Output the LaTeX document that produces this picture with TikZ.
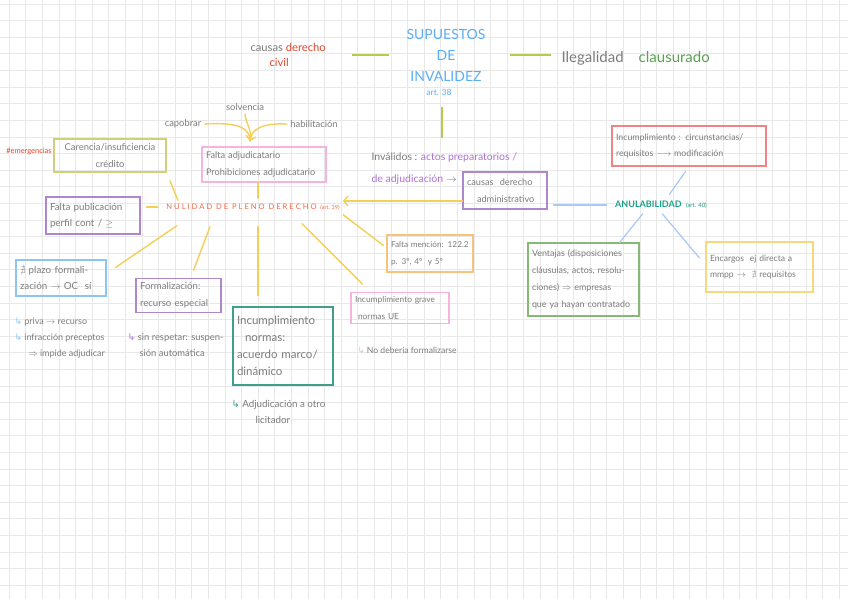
\documentclass[tikz,border=0pt]{standalone}
\usepackage{amssymb}
\usepackage{fontspec}
\setmainfont{Lato}
\newfontfamily\symfont{DejaVu Sans}
\usetikzlibrary{positioning,arrows.meta}
\definecolor{gridc}{HTML}{E8E8E8}
\definecolor{txt}{HTML}{7C7C7C}
\definecolor{tblue}{HTML}{5AAEF5}
\definecolor{olivel}{HTML}{B9C94A}
\definecolor{redt}{HTML}{E0452A}
\definecolor{greent}{HTML}{5AA052}
\definecolor{purt}{HTML}{B070D8}
\definecolor{yel}{HTML}{F5CF55}
\definecolor{nulc}{HTML}{EF6A4A}
\definecolor{lblue}{HTML}{A8C8F5}
\definecolor{anulc}{HTML}{1FA088}
\definecolor{bolive}{HTML}{CDD17A}
\definecolor{bpink}{HTML}{F7B2DE}
\definecolor{bpurple}{HTML}{AE86CC}
\definecolor{bblue}{HTML}{8CC4F2}
\definecolor{bteal}{HTML}{3F9E8C}
\definecolor{borange}{HTML}{F7C27C}
\definecolor{bred}{HTML}{EC8585}
\definecolor{bgreen}{HTML}{86B978}
\definecolor{byellow}{HTML}{F7D97A}
\newcommand{\hook}[1]{{\symfont\color{#1}↳}}
\newcommand{\fs}[1]{\fontsize{#1}{16.5}\selectfont}
\tikzset{
  hand/.style={font=\fs{9.4}, text=txt},
  box/.style={hand, draw, line width=1.1pt, align=left, inner sep=4pt},
  yline/.style={draw=yel, line width=1.4pt, line cap=round},
  bline/.style={draw=lblue, line width=1.2pt, line cap=round},
  oline/.style={draw=olivel, line width=1.5pt},
}
\begin{document}
\begin{tikzpicture}[x=1pt,y=-1pt]
  \useasboundingbox (0,0) rectangle (848,599);
  \fill[white] (0,0) rectangle (848,599);
  % grid paper
  \foreach \i in {0,...,51}
    \draw[gridc, line width=0.6pt] (\i*16.6+9,0) -- (\i*16.6+9,599);
  \foreach \j in {0,...,36}
    \draw[gridc, line width=0.6pt] (0,\j*16.6+4) -- (848,\j*16.6+4);

  % --- title ---
  \node[font=\fontsize{14}{21}\selectfont, text=tblue, align=center] (title) at (446,55)
    {SUPUESTOS\\DE\\INVALIDEZ};
  \node[font=\fontsize{8.5}{10}\selectfont, text=tblue] (art38) at (439,92) {art. 38};
  \node[hand, font=\fontsize{11.2}{15}\selectfont, align=left, anchor=west] (civil) at (247,55)
    {causas \textcolor{redt}{derecho}\\\hspace*{19pt}\textcolor{redt}{civil}};
  \node[font=\fontsize{15}{17}\selectfont, text=txt, anchor=west] (ileg) at (558,58)
    {Ilegalidad\quad\textcolor{greent}{clausurado}};
  \draw[oline, shorten <=23pt, shorten >=14pt] (civil.east |- title) -- (title.west);
  \draw[oline, shorten <=21pt, shorten >=7pt] (title.east) -- (ileg.west |- title);

  % --- administrative invalidity ---
  \node[hand, font=\fontsize{10.5}{22}\selectfont, align=left, anchor=north west] (inval) at (368,149)
    {Inválidos : \textcolor{purt}{actos preparatorios /}\\
     \textcolor{purt}{de adjudicación} $\rightarrow$};
  \draw[oline] (art38.south -| 442,0) ++(0,8) -- (442,138);
  \node[box, draw=bpurple, font=\fs{9.2}, minimum width=84pt, text width=76pt, minimum height=37pt] (causasadm) at (505,190.5)
    {causas\ \ derecho\\\hspace*{10pt}administrativo};
  \coordinate (nultip) at (343,201);
  \draw[yline, -{Straight Barb[length=4pt,width=10pt]}] (causasadm.west |- nultip) -- (nultip);

  % --- nulidad ---
  \node[font=\fontsize{7.6}{9}\selectfont, text=nulc] (nul) at (253,207)
    {N U L I D A D\ \ D E\ \ P L E N O\ \ D E R E C H O\ \ {\fontsize{5.5}{7}\selectfont (art. 39)}};

  \node[box, draw=bolive, align=center, minimum width=112pt, text width=104pt, minimum height=33pt] (caren) at (110,155.5)
    {Carencia/insuficiencia\\crédito};
  \node[font=\fontsize{7.5}{8}\selectfont, text=redt] (emerg) at (29,151) {\#emergencias};
  \node[box, draw=bpink, font=\fs{9.2}, minimum width=124pt, text width=116pt, minimum height=35pt] (fadj) at (264,164.5)
    {Falta adjudicatario\\Prohibiciones adjudicatario};
  \node[hand] (capob) at (183,124) {capobrar};
  \node[hand] (solv) at (245,107) {solvencia};
  \node[hand] (habil) at (314,124) {habilitación};
  \coordinate (merge) at (250,141);
  \draw[yline] (capob.east) .. controls (238,122) and (250,128) .. (merge);
  \draw[yline] (habil.west) .. controls (262,123) and (251,129) .. (merge);
  \draw[yline, -{Straight Barb[length=4pt,width=10pt]}] (solv.south) .. controls (246,124) and (252,130) .. (merge);

  \node[box, draw=bpurple, font=\fs{9.8}, minimum width=94pt, text width=86pt, minimum height=37pt] (pub) at (93,215.5)
    {Falta publicación\\perfil cont / $\geq$};
  \node[box, draw=bblue, font=\fs{9.8}, minimum width=90pt, text width=82pt, minimum height=36pt] (plazo) at (61,278)
    {$\nexists$ plazo formali-\\zación $\rightarrow$ OC\ \ sí};
  \node[box, draw=bpurple, font=\fs{9.6}, minimum width=85pt, text width=77pt, minimum height=33pt] (form) at (178.5,295.5)
    {Formalización:\\recurso especial};
  \node[box, draw=bteal, font=\fontsize{11.5}{17}\selectfont, minimum width=100pt, text width=92pt, minimum height=78pt] (incu) at (283,346)
    {Incumplimiento\\\hspace*{8pt}normas:\\acuerdo marco/\\dinámico};
  \node[box, draw=bpink, font=\fs{8.4}, minimum width=98pt, text width=90pt, minimum height=30pt] (grave) at (400,308)
    {Incumplimiento grave\\\hspace*{3pt}normas UE};
  \node[box, draw=borange, font=\fs{8.2}, minimum width=86pt, text width=78pt, minimum height=37pt] (mencion) at (430,253.5)
    {Falta mención: 122.2\\p. 3º, 4º\ \ y 5º};

  \draw[yline, shorten <=2pt] ([xshift=5pt]nul.north) -- ([xshift=5pt]nul.north |- fadj.south);
  \draw[yline, shorten >=9pt] ([xshift=15pt]nul.north west) -- (caren.south east);
  \draw[yline, shorten <=6pt, shorten >=5pt] (pub.east |- nul.west) -- (nul.west);
  \draw[yline] ([shift={(14pt,-12pt)}]nul.south west) -- ([shift={(9pt,-8pt)}]plazo.north east);
  \draw[yline] ([shift={(-43pt,-13pt)}]nul.south) -- ([shift={(-28pt,8pt)}]form.north east);
  \draw[yline] ([shift={(5pt,-13pt)}]nul.south) -- ([shift={(5pt,11pt)}]nul.south |- incu.north);
  \draw[yline] ([shift={(49pt,-10pt)}]nul.south) -- ([shift={(12pt,8pt)}]grave.north west);
  \draw[yline] ([shift={(0pt,-1pt)}]nul.south east) -- ([shift={(-3pt,8pt)}]mencion.west);

  % notes under the boxes
  \node[hand, font=\fontsize{9}{16}\selectfont, align=left, anchor=north west] (plazonote) at (11,314)
    {\hook{bblue} priva $\rightarrow$ recurso\\\hook{bblue} infracción preceptos\\\hspace*{14pt}$\Rightarrow$ impide adjudicar};
  \node[hand, font=\fontsize{9.4}{16}\selectfont, align=left, anchor=north west] (formnote) at (124,330)
    {\hook{purt} sin respetar: suspen-\\\hspace*{12pt}sión automática};
  \node[hand, font=\fontsize{9.8}{16}\selectfont, align=left, anchor=north west] (incunote) at (228,397)
    {\hook{bteal} Adjudicación a otro\\\hspace*{24pt}licitador};
  \node[hand, font=\fontsize{8.6}{9}\selectfont, anchor=west] (gravenote) at (354,350)
    {\hook{bpink} No debería formalizarse};

  % --- anulabilidad ---
  \node[font=\fontsize{9}{10}\selectfont\bfseries, text=anulc] (anul) at (661,205)
    {ANULABILIDAD\ \ {\fontsize{6}{7}\selectfont\mdseries (art. 40)}};
  \draw[bline, shorten <=6pt, shorten >=5pt] (causasadm.east |- anul.west) -- (anul.west);
  \node[box, draw=bred, font=\fs{8.8}, minimum width=154pt, text width=146pt, minimum height=40pt] (modif) at (689,146)
    {Incumplimiento : circunstancias/\\requisitos $\longrightarrow$ modificación};
  \node[box, draw=bgreen, font=\fontsize{8.9}{17}\selectfont, minimum width=111pt, text width=103pt, minimum height=73pt] (ventajas) at (583.5,279.5)
    {Ventajas (disposiciones\\cláusulas, actos, resolu-\\ciones) $\Rightarrow$ empresas\\que ya hayan contratado};
  \node[box, draw=byellow, font=\fs{8.6}, minimum width=107pt, text width=99pt, minimum height=50pt] (encargos) at (759.5,267)
    {Encargos\ \ ej directa a\\mmpp $\rightarrow$\ \ $\nexists$ requisitos};
  \draw[bline, shorten <=4pt, shorten >=6pt] ([xshift=6pt]anul.north) -- (modif.south);
  \draw[bline, shorten <=2pt] ([xshift=-17pt]anul.south) -- ([xshift=-20pt]ventajas.north east);
  \draw[bline, shorten <=2pt] (anul.south) -- ([shift={(-6pt,9pt)}]encargos.west);
\end{tikzpicture}
\end{document}
